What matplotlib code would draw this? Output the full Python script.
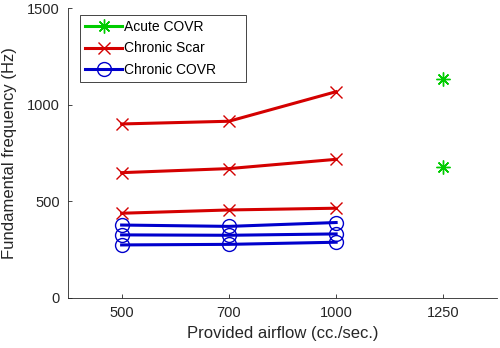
import numpy as np
import matplotlib
matplotlib.use("Agg")
import matplotlib.pyplot as plt

plt.rcParams["font.family"] = ["Liberation Sans", "DejaVu Sans"]

# ── Data ──────────────────────────────────────────────────────────────────────
airflow_labels = ["500", "700", "1000", "1250"]
airflow_pos = [1, 2, 3, 4]

acute_covr_x = [4, 4]
acute_covr_y = [1135, 678]

chronic_scar = [
    [900, 914, 1067],
    [648, 669, 717],
    [438, 455, 464],
]

chronic_covr = [
    [377, 370, 390],
    [326, 324, 331],
    [274, 277, 288],
]

GREEN = "#00cc00"
RED = "#d40000"
BLUE = "#0000cc"

# ── Plot ──────────────────────────────────────────────────────────────────────
fig = plt.figure(figsize=(5.0, 3.48), dpi=100)
ax = fig.add_axes([0.136, 0.144, 0.858, 0.833])

star = (8, 2, 0)
ax.plot(acute_covr_x, acute_covr_y, color=GREEN, ls="none",
        marker=star, ms=10, mew=1.0)

for ys in chronic_scar:
    h_scar, = ax.plot(airflow_pos[:3], ys, color=RED, lw=2.2,
                      marker="x", ms=8, mew=1.0)

for ys in chronic_covr:
    h_covr, = ax.plot(airflow_pos[:3], ys, color=BLUE, lw=2.2,
                      marker="o", ms=10, mew=1.0, mfc="none")

# legend proxy for the green series (line through marker)
lg_acute, = ax.plot([], [], color=GREEN, lw=2.2, marker=star, ms=10, mew=1.0)
leg = ax.legend([lg_acute, h_scar, h_covr],
                ["Acute COVR", "Chronic Scar", "Chronic COVR"],
                loc="upper left", bbox_to_anchor=(0.028, 0.976, 0.387, 0.0),
                mode="expand", fontsize=10, frameon=True, fancybox=False,
                edgecolor="#262626", framealpha=1, handlelength=2.7,
                borderpad=0.35, labelspacing=0.55, handletextpad=0.15,
                borderaxespad=0)
leg.get_frame().set_linewidth(0.6)

ax.set_xlim(0.5, 4.5)
ax.set_ylim(0, 1500)
ax.set_xticks(airflow_pos)
ax.set_xticklabels(airflow_labels)
ax.set_yticks([0, 500, 1000, 1500])

for s in ["top", "right"]:
    ax.spines[s].set_visible(False)
for s in ["left", "bottom"]:
    ax.spines[s].set_color("#262626")
    ax.spines[s].set_linewidth(0.6)
ax.tick_params(direction="in", length=3, width=0.6, colors="#262626",
               labelsize=10.5, pad=6)

ax.set_xlabel("Provided airflow (cc./sec.)", fontsize=12, color="#262626")
ax.set_ylabel("Fundamental frequency (Hz)", fontsize=12, color="#262626")
ax.yaxis.set_label_coords(-0.118, 0.5)

plt.savefig("out.png", dpi=100)
